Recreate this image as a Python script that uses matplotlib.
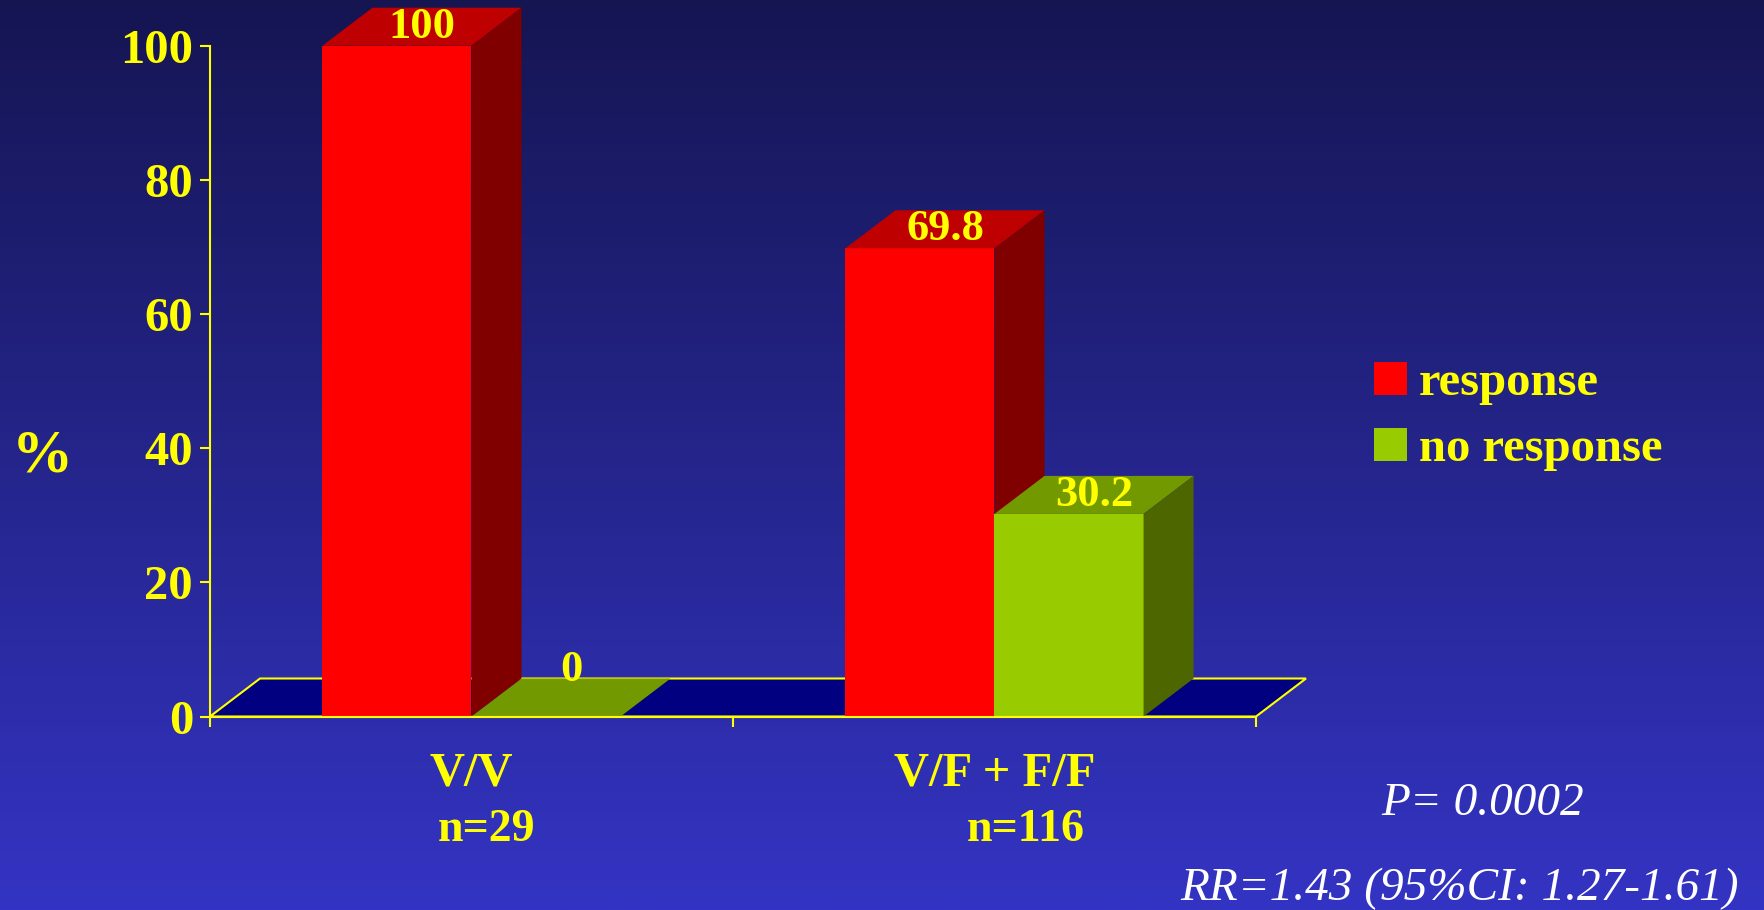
import numpy as np
import matplotlib
matplotlib.use("Agg")
import matplotlib.pyplot as plt
from matplotlib.patches import Polygon, Rectangle

# ---- data -------------------------------------------------------------
categories = ["V/V", "V/F + F/F"]
sample_sizes = ["n=29", "n=116"]
series_names = ["response", "no response"]
response = [100, 69.8]
no_response = [0, 30.2]
y_ticks = [0, 20, 40, 60, 80, 100]
p_text = "P= 0.0002"
rr_text = "RR=1.43 (95%CI: 1.27-1.61)"

# ---- style ------------------------------------------------------------
plt.rcParams["font.family"] = ["Liberation Serif", "DejaVu Serif"]
YELLOW = "#FFFF00"
FACES = {  # front, top, side
    "response": ("#FF0000", "#BF0000", "#800000"),
    "no response": ("#99CC00", "#739900", "#4D6600"),
}
FLOOR = "#000080"

W, H = 1765, 910
fig = plt.figure(figsize=(W / 100, H / 100), dpi=100)

# vertical background gradient
bg = fig.add_axes([0, 0, 1, 1], zorder=-10)
t = np.linspace(0, 1, 400)[:, None, None]
c_top = np.array([21, 21, 82]) / 255
c_bot = np.array([52, 52, 196]) / 255
bg.imshow(c_top + (c_bot - c_top) * t, aspect="auto", extent=[0, 1, 0, 1])
bg.set_axis_off()

ax = fig.add_axes([210 / W, 1 - 716.5 / H, 1046 / W, 670.8 / H])
ax.set_xlim(0, 2)
ax.set_ylim(0, 100)
ax.patch.set_alpha(0)

# pseudo-3D depth (x in category units, y in percent units)
DX, DY = 0.0956, 5.665
BAR_W = 0.285

# floor
floor = Polygon([(0, 0), (2, 0), (2 + DX, DY), (DX, DY)], closed=True,
                facecolor=FLOOR, edgecolor=YELLOW, lw=1.5, zorder=1,
                clip_on=False)
ax.add_patch(floor)


def bar3d(x0, h, colors):
    front, top, side = colors
    ax.add_patch(Rectangle((x0, 0), BAR_W, h, facecolor=front, lw=0,
                           zorder=2, clip_on=False))
    ax.add_patch(Polygon([(x0, h), (x0 + BAR_W, h), (x0 + BAR_W + DX, h + DY),
                          (x0 + DX, h + DY)], closed=True, facecolor=top,
                         lw=0, zorder=2, clip_on=False))
    if h > 0:
        ax.add_patch(Polygon([(x0 + BAR_W, 0), (x0 + BAR_W + DX, DY),
                              (x0 + BAR_W + DX, h + DY), (x0 + BAR_W, h)],
                             closed=True, facecolor=side, lw=0, zorder=2,
                             clip_on=False))
    lift = 1.2 if h > 0 else 5.3
    ax.text(x0 + BAR_W / 2 + DX / 2, h + lift, f"{h:g}", ha="center",
            va="baseline", color=YELLOW, fontsize=32, fontweight="bold",
            zorder=4, clip_on=False)


for i in range(len(categories)):
    centre = i + 0.5
    bar3d(centre - BAR_W, response[i], FACES[series_names[0]])
    bar3d(centre, no_response[i], FACES[series_names[1]])

# axes lines and ticks
for s in ("top", "right"):
    ax.spines[s].set_visible(False)
for s in ("left", "bottom"):
    ax.spines[s].set_color(YELLOW)
    ax.spines[s].set_linewidth(1.5)
    ax.spines[s].set_zorder(3)
ax.set_yticks(y_ticks)
ax.set_yticklabels([str(v) for v in y_ticks])
ax.set_xticks([0, 1, 2])
ax.set_xticklabels([])
ax.tick_params(axis="both", colors=YELLOW, length=7.2, width=1.5,
               direction="out")
ax.tick_params(axis="y", labelsize=35, pad=5)
for lab in ax.get_yticklabels():
    lab.set_fontweight("bold")

# category labels
n_shift_px = [15, 31]
for i, (cat, n) in enumerate(zip(categories, sample_sizes)):
    ax.annotate(cat, xy=(i + 0.5, 0), xycoords=("data", "axes fraction"),
                xytext=(0, -68.5), textcoords="offset pixels", ha="center",
                va="baseline", color=YELLOW, fontsize=35, fontweight="bold")
    ax.annotate(n, xy=(i + 0.5, 0), xycoords=("data", "axes fraction"),
                xytext=(n_shift_px[i], -124.5), textcoords="offset pixels",
                ha="center", va="baseline", color=YELLOW, fontsize=33,
                fontweight="bold")

# y-axis title
fig.text(42 / W, 1 - 456 / H, "%", ha="center", va="center", color=YELLOW,
         fontsize=44, fontweight="bold")

# legend
for k, name in enumerate(series_names):
    y_bot = 395 + 66 * k
    fig.patches.append(Rectangle((1374 / W, 1 - y_bot / H), 33 / W, 33 / H,
                                 transform=fig.transFigure,
                                 facecolor=FACES[name][0], lw=0))
    fig.text(1419 / W, 1 - y_bot / H, name, ha="left", va="baseline",
             color=YELLOW, fontsize=35, fontweight="bold")

# statistics
fig.text(1483 / W, 1 - 815 / H, p_text, ha="center", va="baseline",
         color="white", fontsize=34, fontstyle="italic")
fig.text(1460 / W, 1 - 900 / H, rr_text, ha="center", va="baseline",
         color="white", fontsize=34, fontstyle="italic")

fig.savefig("out.png", dpi=100)
